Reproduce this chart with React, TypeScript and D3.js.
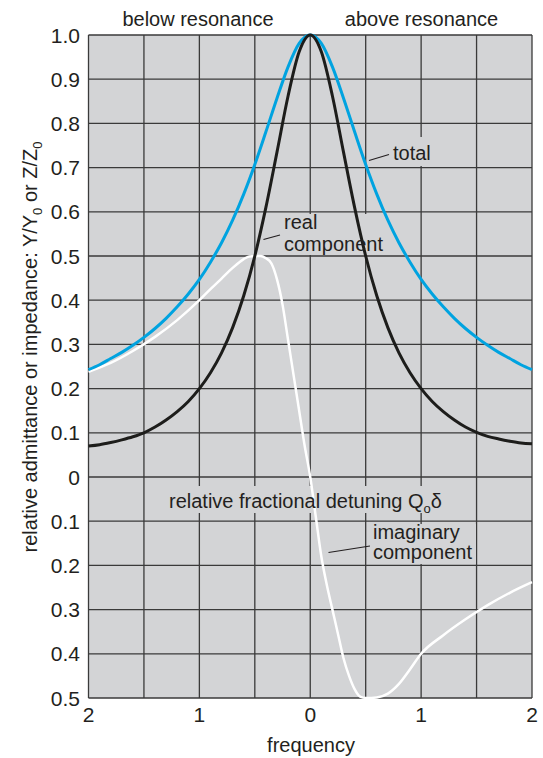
import React from "react";
import * as d3 from "d3";

// ---- data ----
const DETUNING = [
  -2.0, -1.9, -1.8, -1.7, -1.6, -1.5, -1.4, -1.3, -1.2, -1.1, -1.0,
  -0.9, -0.8, -0.7, -0.6, -0.5, -0.4, -0.3, -0.2, -0.1, 0,
  0.1, 0.2, 0.3, 0.4, 0.5, 0.6, 0.7, 0.8, 0.9, 1.0,
  1.1, 1.2, 1.3, 1.4, 1.5, 1.6, 1.7, 1.8, 1.9, 2.0,
];
const TOTAL = [
  0.243, 0.254, 0.268, 0.282, 0.298, 0.316, 0.336, 0.359, 0.385, 0.414, 0.447,
  0.486, 0.53, 0.581, 0.64, 0.707, 0.781, 0.857, 0.928, 0.981, 1.0,
  0.981, 0.928, 0.857, 0.781, 0.707, 0.64, 0.581, 0.53, 0.486, 0.447,
  0.414, 0.385, 0.359, 0.336, 0.316, 0.298, 0.282, 0.268, 0.254, 0.243,
];
const REAL = [
  0.07, 0.073, 0.078, 0.084, 0.091, 0.1, 0.113, 0.129, 0.148, 0.171, 0.2,
  0.236, 0.281, 0.338, 0.41, 0.5, 0.61, 0.735, 0.862, 0.962, 1.0,
  0.962, 0.862, 0.735, 0.61, 0.5, 0.41, 0.338, 0.281, 0.236, 0.2,
  0.171, 0.148, 0.129, 0.113, 0.101, 0.092, 0.086, 0.081, 0.077, 0.075,
];
const IMAG_X = [
  -2.0, -1.8, -1.6, -1.4, -1.2, -1.0, -0.9, -0.8, -0.7, -0.6, -0.55, -0.5,
  -0.45, -0.4, -0.35, -0.3, -0.25, -0.2, -0.15, -0.1, -0.05, 0, 0.05, 0.1,
  0.15, 0.2, 0.25, 0.3, 0.35, 0.4, 0.45, 0.5, 0.55, 0.6, 0.7, 0.8, 0.9, 1.0,
  1.2, 1.4, 1.6, 1.8, 2.0,
];
const IMAG = [
  0.238, 0.258, 0.285, 0.317, 0.355, 0.4, 0.425, 0.449, 0.473, 0.493, 0.499,
  0.5, 0.5, 0.495, 0.483, 0.447, 0.39, 0.31, 0.23, 0.15, 0.07, 0.0, -0.09,
  -0.18, -0.245, -0.3, -0.355, -0.41, -0.45, -0.48, -0.497, -0.5, -0.5,
  -0.499, -0.49, -0.468, -0.435, -0.4, -0.358, -0.322, -0.29, -0.262, -0.238,
];
const X_TICKS = [-2, -1, 0, 1, 2];
const X_TICK_LABELS = ["2", "1", "0", "1", "2"];
const Y_TICKS = [1.0, 0.9, 0.8, 0.7, 0.6, 0.5, 0.4, 0.3, 0.2, 0.1, 0, -0.1, -0.2, -0.3, -0.4, -0.5];
const Y_TICK_LABELS = ["1.0", "0.9", "0.8", "0.7", "0.6", "0.5", "0.4", "0.3", "0.2", "0.1", "0", "0.1", "0.2", "0.3", "0.4", "0.5"];
const X_GRID = [-2, -1.5, -1, -0.5, 0, 0.5, 1, 1.5, 2];

const FONT = "'Liberation Sans', Arial, sans-serif";
const TXT = "#231f20";
const GRID = "#3a3a3a";
const BG = "#d3d4d6";

export default function App() {
  const W = 543, H = 758;
  const x = d3.scaleLinear().domain([-2, 2]).range([88.5, 532]);
  const y = d3.scaleLinear().domain([-0.5, 1]).range([698, 35]);

  const line = d3
    .line<[number, number]>()
    .x((d) => x(d[0]))
    .y((d) => y(d[1]))
    .curve(d3.curveMonotoneX);

  const totalPts = DETUNING.map((d, i) => [d, TOTAL[i]] as [number, number]);
  const realPts = DETUNING.map((d, i) => [d, REAL[i]] as [number, number]);
  const imagPts = IMAG_X.map((d, i) => [d, IMAG[i]] as [number, number]);

  const fs = 20;
  const tfs = 21;

  return (
    <svg
      width={W}
      height={H}
      style={{ position: "absolute", left: 0, top: 0, background: "#fff" }}
      fontFamily={FONT}
    >
      {/* plot background */}
      <rect x={x(-2)} y={y(1)} width={x(2) - x(-2)} height={y(-0.5) - y(1)} fill={BG} />
      {/* grid */}
      {X_GRID.map((g) => (
        <line key={"vx" + g} x1={x(g)} x2={x(g)} y1={y(1)} y2={y(-0.5)} stroke={GRID} strokeWidth={1.3} />
      ))}
      {Y_TICKS.map((g) => (
        <line key={"hy" + g} x1={x(-2)} x2={x(2)} y1={y(g)} y2={y(g)} stroke={GRID} strokeWidth={1.3} />
      ))}
      {/* label knockouts */}
      <rect x={390} y={137} width={50} height={29} fill={BG} />
      <rect x={280} y={214} width={106} height={41} fill={BG} />
      <rect x={166} y={486} width={282} height={27} fill={BG} />
      <rect x={370} y={524} width={106} height={40} fill={BG} />

      {/* curves */}
      <path d={line(imagPts) || ""} fill="none" stroke="#ffffff" strokeWidth={2.5} />
      <path d={line(totalPts) || ""} fill="none" stroke="#00a3e0" strokeWidth={3} />
      <path d={line(realPts) || ""} fill="none" stroke="#1d1d1b" strokeWidth={3} />

      {/* leader lines */}
      <line x1={369} y1={160.5} x2={389} y2={154.5} stroke={TXT} strokeWidth={1.2} />
      <line x1={263.5} y1={239.5} x2={280} y2={235} stroke={TXT} strokeWidth={1.2} />
      <line x1={328.5} y1={552.5} x2={370} y2={546} stroke={TXT} strokeWidth={1.2} />

      {/* annotations */}
      <g fill={TXT} fontSize={fs}>
        <text x={393} y={160}>total</text>
        <text x={284} y={229}>real</text>
        <text x={284} y={251}>component</text>
        <text x={169} y={508}>
          relative fractional detuning Q
          <tspan fontSize={13} dy={5}>o</tspan>
          <tspan dy={-5}>δ</tspan>
        </text>
        <text x={373} y={539}>imaginary</text>
        <text x={373} y={559}>component</text>
        <text x={198} y={26} textAnchor="middle">below resonance</text>
        <text x={421.5} y={26} textAnchor="middle">above resonance</text>
      </g>

      {/* y ticks */}
      <g fill={TXT} fontSize={tfs} textAnchor="end">
        {Y_TICKS.map((t, i) => (
          <text key={"yt" + i} x={80} y={y(t) + 7.5}>
            {Y_TICK_LABELS[i]}
          </text>
        ))}
      </g>
      {/* x ticks */}
      <g fill={TXT} fontSize={tfs} textAnchor="middle">
        {X_TICKS.map((t, i) => (
          <text key={"xt" + i} x={x(t)} y={722}>
            {X_TICK_LABELS[i]}
          </text>
        ))}
      </g>
      <text x={311} y={752} textAnchor="middle" fill={TXT} fontSize={fs}>
        frequency
      </text>
      <text
        transform="translate(37,347) rotate(-90)"
        textAnchor="middle"
        fill={TXT}
        fontSize={fs}
      >
        relative admittance or impedance: Y/Y
        <tspan fontSize={13} dy={5}>0</tspan>
        <tspan dy={-5}> or Z/Z</tspan>
        <tspan fontSize={13} dy={5}>0</tspan>
      </text>
    </svg>
  );
}
